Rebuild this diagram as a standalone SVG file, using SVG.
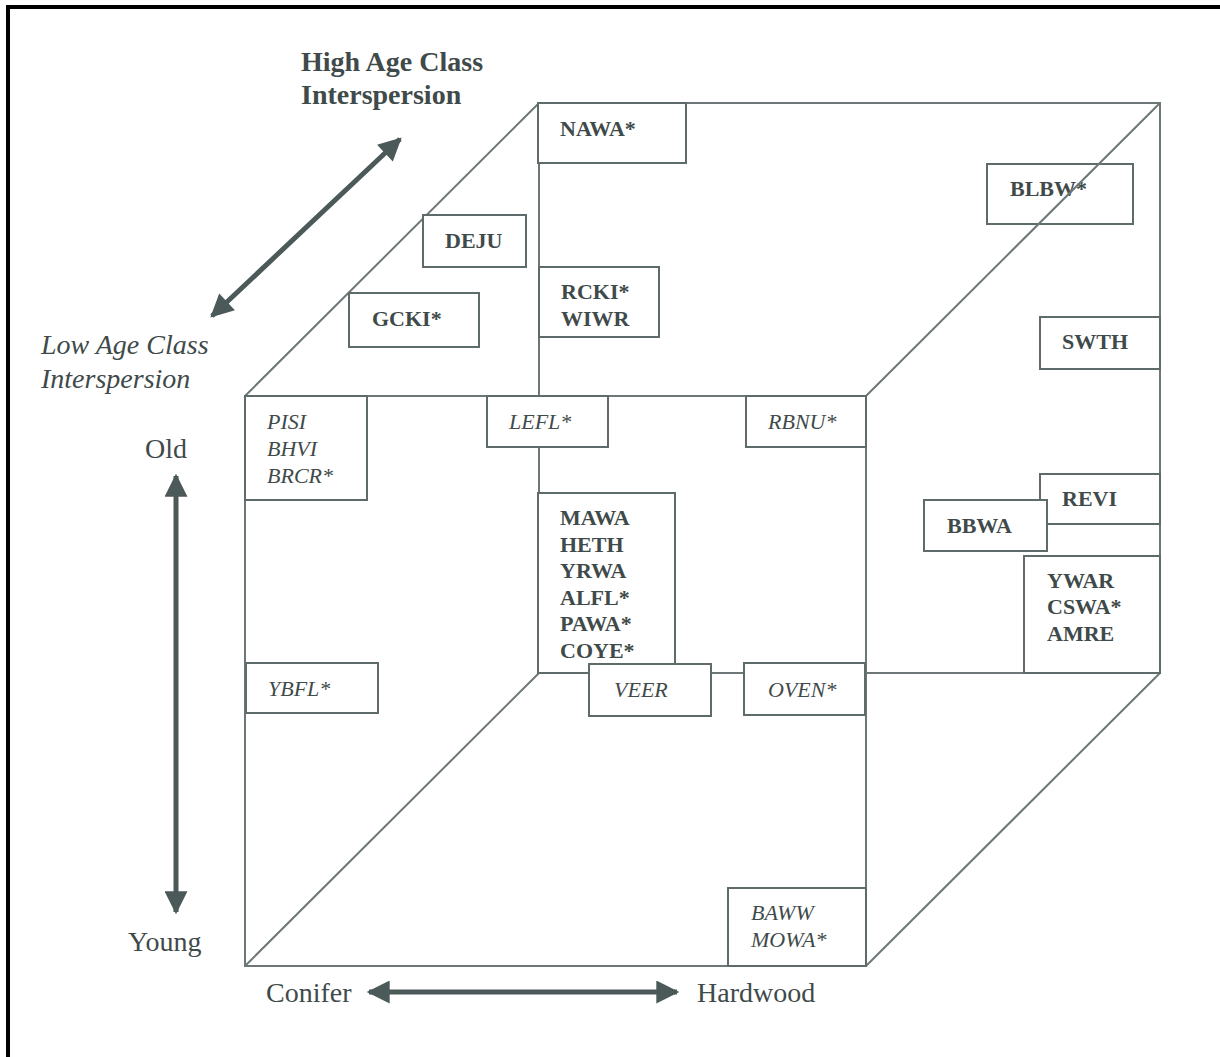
<svg xmlns="http://www.w3.org/2000/svg" width="1220" height="1057" viewBox="0 0 1220 1057">
<style>
.frame{fill:none;stroke:#000;stroke-width:4}
.edge{fill:none;stroke:#6e7777;stroke-width:2}
.box{fill:#fff;stroke:#5f6a6a;stroke-width:2}
.boxn{fill:none;stroke:#5f6a6a;stroke-width:2}
.t{font-family:"Liberation Serif","Times New Roman",serif;font-size:22px;fill:#3f4a4a;font-weight:bold}
.ti{font-family:"Liberation Serif","Times New Roman",serif;font-size:22px;fill:#3f4a4a;font-style:italic}
.lab{font-family:"Liberation Serif","Times New Roman",serif;font-size:28px;fill:#3f4a4a}
.axis{stroke:#4b5959;stroke-width:5;fill:none}
</style>
<defs>
<marker id="ah" viewBox="0 0 10 10" refX="9" refY="5" markerWidth="5" markerHeight="4.6" orient="auto-start-reverse" markerUnits="strokeWidth">
<path d="M0,0 L10,5 L0,10 z" fill="#4b5959"/>
</marker>
</defs>
<rect width="1220" height="1057" fill="#fff"/>
<path class="frame" d="M8,1060 V7 H1224"/>
<g id="box-blbw"><rect class="boxn" x="987" y="164" width="146" height="60"/><text class="t" x="1010" y="196">BLBW*</text></g>
<g id="connectors">
<rect class="edge" x="245" y="396" width="621" height="570"/>
<rect class="edge" x="539" y="103" width="621" height="570"/>
<line class="edge" x1="245" y1="396" x2="539" y2="103"/>
<line class="edge" x1="866" y1="396" x2="1160" y2="103"/>
<line class="edge" x1="245" y1="966" x2="539" y2="673"/>
<line class="edge" x1="866" y1="966" x2="1160" y2="673"/>
<line class="axis" x1="212" y1="316" x2="400" y2="139" marker-start="url(#ah)" marker-end="url(#ah)"/>
<line class="axis" x1="176" y1="476" x2="176" y2="912" marker-start="url(#ah)" marker-end="url(#ah)"/>
<line class="axis" x1="369" y1="992" x2="677" y2="992" marker-start="url(#ah)" marker-end="url(#ah)"/>
</g>
<g id="labels">
<text class="lab" font-weight="bold" x="301" y="71">High Age Class</text>
<text class="lab" font-weight="bold" x="301" y="104">Interspersion</text>
<text class="lab" font-style="italic" x="41" y="354">Low Age Class</text>
<text class="lab" font-style="italic" x="41" y="388">Interspersion</text>
<text class="lab" x="145" y="458">Old</text>
<text class="lab" x="128" y="951">Young</text>
<text class="lab" x="266" y="1002">Conifer</text>
<text class="lab" x="697" y="1002">Hardwood</text>
</g>
<g id="box-nawa"><rect class="box" x="538" y="103" width="148" height="60"/><text class="t" x="560" y="136">NAWA*</text></g>
<g id="box-deju"><rect class="box" x="423" y="215" width="103" height="52"/><text class="t" x="445" y="248">DEJU</text></g>
<g id="box-gcki"><rect class="box" x="349" y="293" width="130" height="54"/><text class="t" x="372" y="326">GCKI*</text></g>
<g id="box-rcki"><rect class="box" x="539" y="267" width="120" height="70"/><text class="t" x="561" y="299">RCKI*</text><text class="t" x="561" y="326">WIWR</text></g>
<g id="box-swth"><rect class="box" x="1040" y="317" width="120" height="52"/><text class="t" x="1062" y="349">SWTH</text></g>
<g id="box-pisi"><rect class="box" x="245" y="396" width="122" height="104"/><text class="ti" x="267" y="429">PISI</text><text class="ti" x="267" y="456">BHVI</text><text class="ti" x="267" y="483">BRCR*</text></g>
<g id="box-lefl"><rect class="box" x="487" y="396" width="121" height="51"/><text class="ti" x="509" y="429">LEFL*</text></g>
<g id="box-rbnu"><rect class="box" x="746" y="396" width="120" height="51"/><text class="ti" x="768" y="429">RBNU*</text></g>
<g id="box-mawa"><rect class="box" x="538" y="493" width="137" height="180"/><text class="t" x="560" y="525">MAWA</text><text class="t" x="560" y="552">HETH</text><text class="t" x="560" y="578">YRWA</text><text class="t" x="560" y="605">ALFL*</text><text class="t" x="560" y="631">PAWA*</text><text class="t" x="560" y="658">COYE*</text></g>
<g id="box-revi"><rect class="box" x="1040" y="474" width="120" height="50"/><text class="t" x="1062" y="506">REVI</text></g>
<g id="box-bbwa"><rect class="box" x="924" y="500" width="123" height="51"/><text class="t" x="947" y="533">BBWA</text></g>
<g id="box-ywar"><rect class="box" x="1024" y="556" width="136" height="117"/><text class="t" x="1047" y="588">YWAR</text><text class="t" x="1047" y="614">CSWA*</text><text class="t" x="1047" y="641">AMRE</text></g>
<g id="box-ybfl"><rect class="box" x="246" y="663" width="132" height="50"/><text class="ti" x="268" y="696">YBFL*</text></g>
<g id="box-veer"><rect class="box" x="589" y="664" width="122" height="52"/><text class="ti" x="614" y="697">VEER</text></g>
<g id="box-oven"><rect class="box" x="744" y="663" width="121" height="52"/><text class="ti" x="768" y="697">OVEN*</text></g>
<g id="box-baww"><rect class="box" x="728" y="888" width="138" height="78"/><text class="ti" x="751" y="920">BAWW</text><text class="ti" x="751" y="947">MOWA*</text></g>
</svg>
